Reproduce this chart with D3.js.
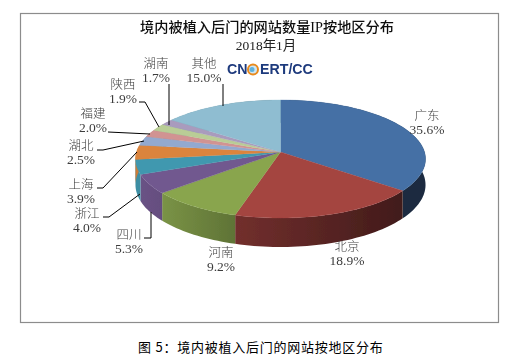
<!DOCTYPE html>
<html>
<head>
<meta charset="utf-8">
<script src="https://cdn.jsdelivr.net/npm/d3@7"></script>
<style>
  html, body { margin: 0; padding: 0; background: #fff; }
  svg { display: block; }
  text { font-family: "Liberation Serif", "Noto Sans CJK SC", serif; }
</style>
</head>
<body>
<svg id="chart" width="521" height="363"></svg>
<script>
const regions = ["广东", "北京", "河南", "四川", "浙江", "上海", "湖北", "福建", "陕西", "湖南", "其他"];
const shares = [35.6, 18.9, 9.2, 5.3, 4.0, 3.9, 2.5, 2.0, 1.9, 1.7, 15.0];
const colors = ["#4470a5", "#a44441", "#89a54e", "#71588f", "#4198af", "#db843d",
  "#93a9cf", "#d19392", "#b9cd96", "#a99bbd", "#8fbdd1"];

// where each label sits, same order as regions: label centre, first line y, leader polyline
const labelPos = [
  { x: 427, y: 115, lead: [] },
  { x: 347, y: 246, lead: [] },
  { x: 221, y: 252, lead: [] },
  { x: 129, y: 234, lead: [[144, 238], [151, 238], [151, 212]] },
  { x: 87, y: 213, lead: [[103, 217], [109, 217], [140, 194]] },
  { x: 81, y: 184, lead: [[97, 188], [103, 188], [137, 152]] },
  { x: 81, y: 145, lead: [[97, 150], [103, 150], [144, 141]] },
  { x: 93, y: 113, lead: [[108, 132], [150, 134]] },
  { x: 123, y: 84, lead: [[139, 102], [145, 102], [159, 127]] },
  { x: 156, y: 63, lead: [[169, 84], [169, 125]] },
  { x: 204, y: 63, lead: [[223, 84], [223, 106]] }
];

const svg = d3.select("#chart");
const defs = svg.append("defs");
defs.append("filter").attr("id", "soft")
  .attr("x", "-5%").attr("y", "-5%").attr("width", "110%").attr("height", "110%")
  .append("feGaussianBlur").attr("stdDeviation", 0.35);

// frame
svg.append("rect")
  .attr("x", 20.5).attr("y", 13.5).attr("width", 478).attr("height", 309)
  .attr("fill", "#fff").attr("stroke", "#8c8c8c").attr("stroke-width", 1.2);

const chart = svg.append("g").attr("filter", "url(#soft)");

// The pie is drawn in perspective, so the apex is above the middle of the ellipse
const cx = 280.5, cy = 152, rx = 144, ry = 58.2, tilt = 0.1186, depth = 25.5;

const project = (a, r = 1, drop = 0) => {
  const u = Math.sin(a) * r, v = -Math.cos(a) * r;
  const w = 1 - tilt * v;
  return [cx + rx * u / w, cy + ry * v / w + drop / w];
};

const slices = d3.pie().sort(null).value(d => d)(shares);
const line = d3.line();

const rimAngles = s => {
  const n = Math.max(4, Math.ceil((s.endAngle - s.startAngle) / 0.03));
  return d3.range(n + 1).map(i => s.startAngle + (s.endAngle - s.startAngle) * i / n);
};

// walls get darker toward the right
const shade = d3.scaleLinear().domain([165, 403]).range([0.35, 2.6]);

chart.append("g").selectAll("path")
  .data(slices)
  .enter()
  .append("path")
  .attr("d", s => {
    const top = rimAngles(s).map(a => project(a));
    const bottom = rimAngles(s).reverse().map(a => project(a, 1, depth));
    return line(top.concat(bottom)) + "Z";
  })
  .attr("fill", (s, i) => {
    const x0 = project(s.startAngle)[0], x1 = project(s.endAngle)[0];
    const grad = defs.append("linearGradient")
      .attr("id", "wall" + i)
      .attr("gradientUnits", "userSpaceOnUse")
      .attr("x1", x0).attr("x2", x1).attr("y1", 0).attr("y2", 0);
    grad.append("stop").attr("offset", 0).attr("stop-color", d3.color(colors[i]).darker(Math.max(0.2, shade(x0))));
    grad.append("stop").attr("offset", 1).attr("stop-color", d3.color(colors[i]).darker(Math.max(0.2, shade(x1))));
    return `url(#wall${i})`;
  });

chart.append("g").selectAll("path")
  .data(slices)
  .enter()
  .append("path")
  .attr("d", s => line([[cx, cy]].concat(rimAngles(s).map(a => project(a)))) + "Z")
  .attr("fill", (s, i) => colors[i])
  .attr("stroke", (s, i) => colors[i])
  .attr("stroke-width", 0.3);

// leader lines
chart.append("g").selectAll("path")
  .data(labelPos.filter(d => d.lead.length))
  .enter()
  .append("path")
  .attr("d", d => line(d.lead))
  .attr("fill", "none")
  .attr("stroke", "#000")
  .attr("stroke-width", 1);

// labels
const labels = chart.append("g").selectAll("g")
  .data(regions)
  .enter()
  .append("g")
  .attr("text-anchor", "middle")
  .attr("fill", "#3c3c3c");

labels.append("text")
  .attr("x", (d, i) => labelPos[i].x)
  .attr("y", (d, i) => labelPos[i].y)
  .attr("dy", "0.36em")
  .attr("font-size", 12.5)
  .attr("font-weight", 300)
  .text(d => d);

labels.append("text")
  .attr("x", (d, i) => labelPos[i].x)
  .attr("y", (d, i) => labelPos[i].y + 14.5)
  .attr("dy", "0.36em")
  .attr("font-size", 13.5)
  .text((d, i) => shares[i].toFixed(1) + "%");

// titles
chart.append("text")
  .attr("x", 267).attr("y", 32)
  .attr("text-anchor", "middle")
  .attr("font-size", 14.2).attr("font-weight", 500).attr("fill", "#111")
  .text("境内被植入后门的网站数量IP按地区分布");

chart.append("text")
  .attr("x", 266).attr("y", 50)
  .attr("text-anchor", "middle")
  .attr("font-size", 13.5).attr("fill", "#222")
  .text("2018年1月");

// logo
const logo = chart.append("g").attr("font-weight", "bold");
logo.append("text").attr("x", 227).attr("y", 74)
  .attr("font-size", 14.2).attr("fill", "#1f3a7d")
  .style("font-family", "'Liberation Sans'")
  .text("CN");
logo.append("text").attr("x", 260).attr("y", 74)
  .attr("font-size", 14.2).attr("fill", "#1f3a7d")
  .style("font-family", "'Liberation Sans'")
  .text("ERT/CC");
logo.append("circle").attr("cx", 253).attr("cy", 69.5).attr("r", 5)
  .attr("fill", "#cfe6f3").attr("stroke", "#e98a1c").attr("stroke-width", 2);
logo.append("circle").attr("cx", 252).attr("cy", 69.5).attr("r", 2.5)
  .attr("fill", "#5fb2dd");

// caption under the frame
svg.append("text")
  .attr("x", 138).attr("y", 352)
  .attr("font-size", 13).attr("fill", "#000")
  .attr("font-weight", 400)
  .attr("letter-spacing", 0.75)
  .style("font-family", "'Noto Sans CJK SC'")
  .text("图 5：境内被植入后门的网站按地区分布");
</script>
</body>
</html>
